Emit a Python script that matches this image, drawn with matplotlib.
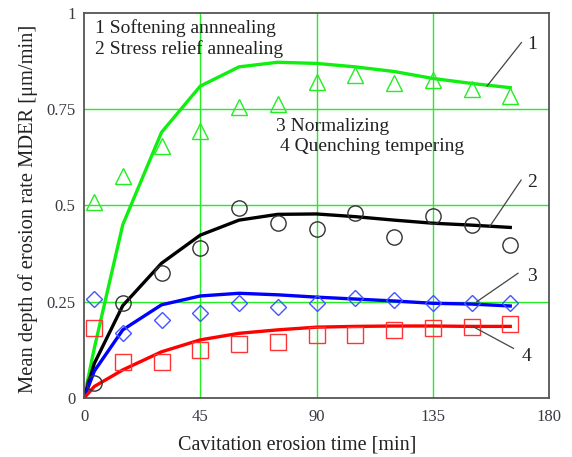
import numpy as np
import matplotlib
matplotlib.use("Agg")
import matplotlib.pyplot as plt

# measured points (cavitation time, min)
t_pts = [4, 15, 30, 45, 60, 75, 90, 105, 120, 135, 150, 165]
soft_pts = [0.51, 0.577, 0.655, 0.694, 0.755, 0.764, 0.822, 0.839, 0.819, 0.826, 0.802, 0.784]
stress_pts = [0.04, 0.247, 0.324, 0.389, 0.494, 0.455, 0.438, 0.48, 0.419, 0.473, 0.449, 0.397]
norm_pts = [0.257, 0.168, 0.203, 0.222, 0.248, 0.236, 0.246, 0.259, 0.255, 0.246, 0.248, 0.248]
quench_pts = [0.181, 0.094, 0.094, 0.125, 0.14, 0.146, 0.164, 0.164, 0.177, 0.181, 0.184, 0.191]

# fitted curves
t_fit = [0, 4, 15, 30, 45, 60, 75, 90, 105, 120, 135, 150, 165]
soft_fit = [0, 0.13, 0.45, 0.69, 0.81, 0.86, 0.872, 0.869, 0.86, 0.848, 0.83, 0.817, 0.806]
stress_fit = [0, 0.09, 0.24, 0.35, 0.423, 0.462, 0.477, 0.478, 0.471, 0.462, 0.454, 0.449, 0.443]
norm_fit = [0, 0.07, 0.177, 0.242, 0.265, 0.272, 0.268, 0.262, 0.257, 0.252, 0.246, 0.244, 0.239]
quench_fit = [0, 0.03, 0.073, 0.12, 0.151, 0.168, 0.177, 0.184, 0.186, 0.187, 0.187, 0.186, 0.186]

labels = ["1 Softening annnealing", "2 Stress relief annealing",
          "3 Normalizing", "4 Quenching tempering"]

plt.rcParams['font.family'] = ['Liberation Serif', 'DejaVu Serif']

fig = plt.figure(figsize=(5.72, 4.57), dpi=100)
ax = fig.add_axes([0.1469, 0.1291, 0.8129, 0.8425])

grid_c = "#22ee22"
for v in [45, 90, 135]:
    ax.axvline(v, color=grid_c, lw=1.0, zorder=0)
for v in [0.25, 0.5, 0.75]:
    ax.axhline(v, color=grid_c, lw=1.0, zorder=0)

ax.plot(t_fit, soft_fit, color="#11ee11", lw=2.4)
ax.plot(t_fit, stress_fit, color="black", lw=2.4)
ax.plot(t_fit, norm_fit, color="#0000ff", lw=2.4)
ax.plot(t_fit, quench_fit, color="#ff0000", lw=2.4)

ax.plot(t_pts, soft_pts, ls="none", marker="^", ms=12, mfc="none", mec="#22ee22", mew=1.0)
ax.plot(t_pts, stress_pts, ls="none", marker="o", ms=11, mfc="none", mec="#333333", mew=1.0)
ax.plot(t_pts, norm_pts, ls="none", marker="D", ms=8.5, mfc="none", mec="#4455ff", mew=1.0)
ax.plot(t_pts, quench_pts, ls="none", marker="s", ms=11.5, mfc="none", mec="#ff3333", mew=1.0)

# numbered leader lines
leaders = [((156, 0.81), (169.3, 0.923), (171.5, 0.917), "1"),
           ((157, 0.445), (169.2, 0.566), (171.5, 0.56), "2"),
           ((152, 0.25), (168, 0.324), (171.5, 0.315), "3"),
           ((150.7, 0.185), (166.2, 0.129), (169.4, 0.107), "4")]
for p0, p1, pt, s in leaders:
    ax.plot([p0[0], p1[0]], [p0[1], p1[1]], color="#444444", lw=0.9)
    ax.text(pt[0], pt[1], s, fontsize=14, color="#222222", va="center", ha="left")

ax.text(4.2, 0.96, labels[0], fontsize=14, color="#222222", va="center")
ax.text(4.2, 0.906, labels[1], fontsize=14, color="#222222", va="center")
ax.text(74.5, 0.705, labels[2], fontsize=14, color="#222222", va="center")
ax.text(76.0, 0.653, labels[3], fontsize=14, color="#222222", va="center")

ax.set_xlim(0, 180)
ax.set_ylim(0, 1)
ax.set_xticks([0, 45, 90, 135, 180])
ax.set_yticks([0, 0.25, 0.5, 0.75, 1])
ax.set_yticklabels(["0", "0.25", "0.5", "0.75", "1"])
ax.tick_params(length=0, labelsize=12, labelcolor="#3a3a44", pad=6)
ax.tick_params(axis="x", pad=8)
for sp in ax.spines.values():
    sp.set_color("#555555")
    sp.set_linewidth(1.3)

ax.set_xlabel("Cavitation erosion time [min]", fontsize=14.5, color="#222222")
ax.xaxis.set_label_coords(0.458, -0.097)
ax.set_ylabel("Mean depth of erosion rate MDER [\u03bcm/min]", fontsize=14.8, color="#222222")
ax.yaxis.set_label_coords(-0.098, 0.49)

fig.savefig("out.png", dpi=100)
